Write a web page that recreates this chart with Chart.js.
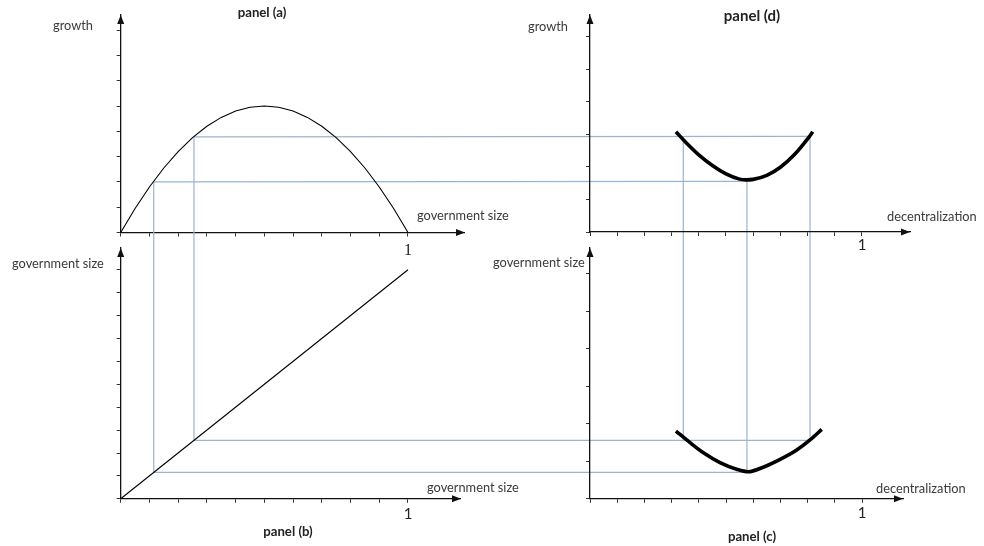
<!DOCTYPE html>
<html>
<head>
<title>Government size, decentralization and growth</title>
<script src="https://cdn.jsdelivr.net/npm/chart.js@4.4.1/dist/chart.umd.min.js"></script>
<style>
    body { margin: 0; background: #fff; }
    #wrap { position: relative; width: 984px; height: 546px; overflow: hidden; }
    #wrap canvas { position: absolute; left: 0; top: 0; }
    .lbl { position: absolute; font-family: Lato, "Liberation Sans", sans-serif; font-size: 12.8px; line-height: 15px;
           color: #3a3a3a; white-space: nowrap; transform: translateY(-50%); }
    .ttl { font-weight: bold; color: #222; transform: translate(-50%, -50%); }
</style>
</head>
<body>
<div id="wrap">
    <!-- canvas (a) is the bottom layer, it also carries the blue guide lines -->
    <canvas id="cA" width="984" height="546"></canvas>
    <canvas id="cB" width="984" height="546"></canvas>
    <canvas id="cC" width="984" height="546"></canvas>
    <canvas id="cD" width="984" height="546"></canvas>

    <div class="lbl" style="left:53px;top:25px">growth</div>
    <div class="lbl" style="left:417px;top:215px">government size</div>
    <div class="lbl ttl" style="left:262px;top:12px;font-size:13.2px">panel (a)</div>

    <div class="lbl" style="left:528px;top:26px">growth</div>
    <div class="lbl" style="left:887px;top:216px">decentralization</div>
    <div class="lbl ttl" style="left:752px;top:15px;font-size:15px">panel (d)</div>

    <div class="lbl" style="left:12px;top:263px">government size</div>
    <div class="lbl" style="left:427px;top:487px">government size</div>
    <div class="lbl ttl" style="left:288px;top:531px;font-size:13.2px">panel (b)</div>

    <div class="lbl" style="left:493px;top:262px">government size</div>
    <div class="lbl" style="left:876px;top:488px">decentralization</div>
    <div class="lbl ttl" style="left:752px;top:536px;font-size:13.2px">panel (c)</div>
</div>
<script>
// panel (a): growth against government size (hump shaped)
const govA = [0, 0.05, 0.1, 0.15, 0.2, 0.25, 0.3, 0.35, 0.4, 0.45, 0.5, 0.55, 0.6, 0.65, 0.7, 0.75, 0.8, 0.85, 0.9, 0.95, 1];
const growthA = [0, 0.95, 1.8, 2.55, 3.2, 3.75, 4.2, 4.55, 4.8, 4.95, 5, 4.95, 4.8, 4.55, 4.2, 3.75, 3.2, 2.55, 1.8, 0.95, 0];

// panel (b): 45 degree line, government size against itself
const govB = [0, 1];
const govB2 = [0, 1];

// panel (c): government size against decentralization
const decC = [0.316, 0.368, 0.417, 0.478, 0.539, 0.582, 0.637, 0.699, 0.760, 0.809, 0.852];
const govC = [0.296, 0.245, 0.201, 0.158, 0.129, 0.118, 0.138, 0.172, 0.213, 0.257, 0.303];

// panel (d): growth against decentralization
const decD = [0.316, 0.35, 0.40, 0.45, 0.50, 0.55, 0.574, 0.60, 0.65, 0.70, 0.75, 0.80, 0.819];
const growthD = [3.96, 3.57, 3.05, 2.63, 2.30, 2.09, 2.06, 2.08, 2.24, 2.56, 3.04, 3.68, 3.96];

// blue guide lines linking the panels (low and high government size)
const guideGov = [0.115, 0.255];
const guideGrowth = [2.0, 3.78];
const guideDec = [[0.577], [0.343, 0.809]];

// only tick that carries a label
const labelledTicks = [1];
const labelledText = ['1'];

const pts = (xs, ys) => xs.map((x, i) => ({x: x, y: ys[i]}));

// room kept under each x axis for its tick label
const X_BAND = 30;

// arrow heads on the axis ends
const arrows = {
    id: 'arrows',
    afterDraw(chart) {
        const {ctx, chartArea} = chart;
        const {left, right, top, bottom} = chartArea;
        ctx.save();
        ctx.fillStyle = '#111';
        ctx.beginPath();
        ctx.moveTo(right, bottom); ctx.lineTo(right - 9, bottom - 3.5); ctx.lineTo(right - 9, bottom + 3.5);
        ctx.closePath(); ctx.fill();
        ctx.beginPath();
        ctx.moveTo(left, top); ctx.lineTo(left - 3.5, top + 9); ctx.lineTo(left + 3.5, top + 9);
        ctx.closePath(); ctx.fill();
        ctx.restore();
    }
};

let chartB, chartC, chartD;

// guide lines are drawn with the scales of the panels they join
const guides = {
    id: 'guides',
    beforeDatasetsDraw(chart) {
        const a = chart.scales, b = chartB.scales, c = chartC.scales, d = chartD.scales;
        const ctx = chart.ctx;
        const seg = (x1, y1, x2, y2) => { ctx.beginPath(); ctx.moveTo(x1, y1); ctx.lineTo(x2, y2); ctx.stroke(); };
        ctx.save();
        ctx.strokeStyle = '#9cb3cf';
        ctx.lineWidth = 1.2;
        guideGov.forEach((g, i) => {
            const G = guideGrowth[i];
            const decs = guideDec[i];
            const far = Math.max(...decs);
            // (a) down to the 45 degree line in (b)
            seg(a.x.getPixelForValue(g), a.y.getPixelForValue(G), b.x.getPixelForValue(g), b.y.getPixelForValue(g));
            // (a) across to the curve in (d)
            seg(a.x.getPixelForValue(g), a.y.getPixelForValue(G), d.x.getPixelForValue(far), d.y.getPixelForValue(G));
            // (d) down to (c)
            decs.forEach(v => seg(d.x.getPixelForValue(v), d.y.getPixelForValue(G), c.x.getPixelForValue(v), c.y.getPixelForValue(g)));
            // (b) across to (c)
            seg(b.x.getPixelForValue(g), b.y.getPixelForValue(g), c.x.getPixelForValue(far), c.y.getPixelForValue(g));
        });
        ctx.restore();
    }
};

function axis(isX, max, step, lastTick, labelFont, labelPad) {
    return {
        type: 'linear', min: 0, max: max,
        border: {display: true, color: '#111', width: 1.3},
        grid: {drawOnChartArea: false, drawTicks: true, tickLength: 4, color: '#333', lineWidth: 1},
        ticks: {
            stepSize: step, autoSkip: false, maxRotation: 0, padding: labelPad || 0,
            font: labelFont || {size: 12}, color: '#222',
            callback: v => {
                if (!labelFont) return '';
                const k = labelledTicks.findIndex(t => Math.abs(t - v) < 1e-6);
                return k < 0 ? '' : labelledText[k];
            }
        },
        afterBuildTicks: s => { s.ticks = s.ticks.filter(t => t.value <= lastTick + 1e-6); },
        afterFit: s => { if (isX) s.height = X_BAND; else s.width = 0; }
    };
}

function makeChart(id, area, datasets, scales, plugins) {
    return new Chart(document.getElementById(id), {
        type: 'scatter',
        data: {datasets: datasets},
        options: {
            animation: false, responsive: false, devicePixelRatio: 1, events: [],
            layout: {padding: {left: area[0], top: area[2], right: 984 - area[1], bottom: 546 - area[3] - X_BAND}},
            plugins: {legend: {display: false}, tooltip: {enabled: false}},
            scales: scales
        },
        plugins: plugins
    });
}

const thin = {showLine: true, pointRadius: 0, borderColor: '#000', borderWidth: 1.1, fill: false, clip: false};
const thick = {showLine: true, pointRadius: 0, borderColor: '#000', borderWidth: 3.6, fill: false, clip: false,
               cubicInterpolationMode: 'monotone', borderCapStyle: 'butt'};

const sans15 = {family: 'Lato', size: 15};

chartB = makeChart('cB', [120.7, 461, 248, 498.8],
    [Object.assign({data: pts(govB, govB2)}, thin)],
    {x: axis(true, 1.1845, 0.1, 1, sans15, 2), y: axis(false, 1.0952, 0.1, 1)},
    [arrows]);

chartC = makeChart('cC', [590, 903, 248, 498.8],
    [Object.assign({data: pts(decC, govC)}, thick)],
    {x: axis(true, 1.1507, 0.1, 1, sans15, 1.5), y: axis(false, 1.0952, 0.1638, 0.99)},
    [arrows]);

chartD = makeChart('cD', [590, 910, 15, 232],
    [Object.assign({data: pts(decD, growthD)}, thick)],
    {x: axis(true, 1.1765, 0.1, 1, sans15, 0), y: axis(false, 8.577, 1.285, 7.72)},
    [arrows]);

makeChart('cA', [120.7, 465, 15, 232.5],
    [Object.assign({data: pts(govA, growthA)}, thin)],
    {x: axis(true, 1.1984, 0.1, 1, {family: 'Liberation Serif', size: 16}, 4.5), y: axis(false, 8.597, 1, 8)},
    [guides, arrows]);
</script>
</body>
</html>
